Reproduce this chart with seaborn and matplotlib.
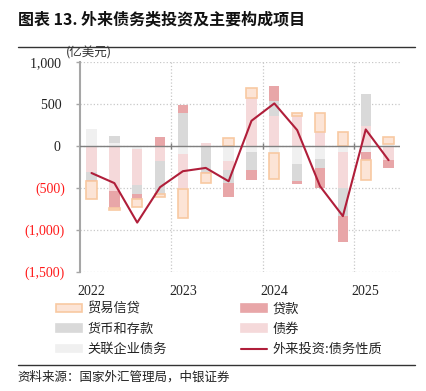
import numpy as np
import pandas as pd
import seaborn as sns
import matplotlib.pyplot as plt
from matplotlib.patches import Patch
from matplotlib.lines import Line2D

# Quarterly values, 100 million USD (亿美元)
quarters = ['2022Q1', '2022Q2', '2022Q3', '2022Q4',
            '2023Q1', '2023Q2', '2023Q3', '2023Q4',
            '2024Q1', '2024Q2', '2024Q3', '2024Q4',
            '2025Q1', '2025Q2']
year_labels = ['2022', '2023', '2024', '2025']

intercompany = [210, 40, -30, 0, -90, 0, -180, -68, -85, -215, -155, -68, -68, 30]
bonds = [-305, -535, -430, -180, -415, 35, -105, 576, 358, 358, 170, -425, 243, -160]
deposits = [-95, 83, -105, -390, 390, -310, -150, -210, 179, -203, -103, -342, 374, 0]
loans = [-20, -205, -65, 111, 99, -15, -175, -128, 179, -32, -235, -306, -91, -95]
trade_credit = [-215, -20, -100, -35, -346, -110, 100, 120, -305, 40, 228, 163, -247, 80]
debt_inflow = [-320, -440, -910, -488, -298, -259, -418, 302, 509, 191, -477, -833, 199, -167]

# stacking order from zero outward (same as the original chart)
series = [
    ('关联企业债务', intercompany, '#F0F0F0', 'none'),
    ('债券', bonds, '#F5D9DA', 'none'),
    ('货币和存款', deposits, '#D9D9D9', 'none'),
    ('贷款', loans, '#E8A6A8', 'none'),
    ('贸易信贷', trade_credit, '#FCE4D6', '#F8C9A2'),
]
line_color = '#B01E3A'

sns.set_style('white')
plt.rcParams['font.family'] = ['Noto Sans CJK SC', 'DejaVu Sans']

fig = plt.figure(figsize=(4.26, 3.91), dpi=100)
ax = fig.add_axes([0.188, 0.304, 0.751, 0.537])

pos_base = np.zeros(len(quarters))
neg_base = np.zeros(len(quarters))
for name, vals, color, edge in series:
    vals = np.array(vals, dtype=float)
    bottom = np.where(vals >= 0, pos_base, neg_base)
    df = pd.DataFrame({'quarter': quarters, 'value': vals})
    sns.barplot(data=df, x='quarter', y='value', order=quarters, ax=ax,
                color=color, width=0.45, bottom=bottom, saturation=1,
                edgecolor=edge, linewidth=1.2 if edge != 'none' else 0,
                errorbar=None, zorder=3)
    pos_base = pos_base + np.clip(vals, 0, None)
    neg_base = neg_base + np.clip(vals, None, 0)

line_df = pd.DataFrame({'pos': np.arange(len(quarters)), 'value': debt_inflow})
sns.lineplot(data=line_df, x='pos', y='value', ax=ax, color=line_color,
             linewidth=1.5, zorder=5, sort=False)

ax.set_xlim(-0.5, len(quarters) - 0.5)
ax.set_ylim(-1500, 1000)
ax.set_yticks([1000, 500, 0, -500, -1000, -1500])

def fmt(v):
    # accounting style: negatives in brackets, positives padded on the right
    return f'({abs(v):,})' if v < 0 else f'{v:,} '

ax.set_yticklabels([fmt(v) for v in ax.get_yticks().astype(int)],
                   family='Liberation Serif', fontsize=10)
for lab, v in zip(ax.get_yticklabels(), ax.get_yticks()):
    lab.set_color('#FF1A1A' if v < 0 else '#222222')

year_pos = [quarters.index(y + 'Q1') for y in year_labels]
ax.set_xticks(year_pos)
ax.set_xticklabels(year_labels, family='Liberation Serif', fontsize=10, color='#222222')
ax.set_xlabel('')
ax.set_ylabel('')

ax.grid(axis='y', linestyle=':', color='#C8C8C8', linewidth=0.9, zorder=0)
bounds = [p - 0.5 for p in year_pos[1:]]
for b in bounds:
    ax.axvline(b, linestyle=':', color='#C8C8C8', linewidth=0.9, zorder=0)
ax.axhline(0, color='#808080', linewidth=1.0, zorder=4)
ax.plot(bounds, [0] * len(bounds), linestyle='none', marker='|',
        markersize=5, color='#808080', zorder=4)

for s in ['top', 'right', 'bottom']:
    ax.spines[s].set_visible(False)
ax.spines['left'].set_color('#A6A6A6')
ax.spines['left'].set_linewidth(1.5)
ax.tick_params(axis='y', left=True, length=3, width=1, color='#A6A6A6', pad=8)
ax.tick_params(axis='x', bottom=False, pad=6)

# title block
fig.text(0.042, 0.948, '图表 13. 外来债务类投资及主要构成项目', fontsize=11.5,
         fontweight='bold', va='center', ha='left', color='#111111')
fig.add_artist(Line2D([0.042, 0.975], [0.881, 0.881], color='#333333', linewidth=1.0))
fig.text(0.155, 0.864, '(亿美元)', fontsize=9, va='center', ha='left', color='#333333')

# legend
handles = []
for name, vals, color, edge in series:
    handles.append((name, Patch(facecolor=color, edgecolor=edge if edge != 'none' else color,
                                linewidth=1.2)))
h = dict(handles)
leg_handles = [h['贸易信贷'], h['货币和存款'], h['关联企业债务'],
               h['贷款'], h['债券'], Line2D([], [], color=line_color, linewidth=1.5)]
leg_labels = ['贸易信贷', '货币和存款', '关联企业债务', '贷款', '债券', '外来投资:债务性质']
fig.legend(leg_handles, leg_labels, loc='upper left', bbox_to_anchor=(0.115, 0.243),
           ncol=2, frameon=False, fontsize=9.5, handlelength=2.0, handleheight=0.55,
           handletextpad=0.4, columnspacing=5.63, labelspacing=0.55, borderpad=0,
           labelcolor='#222222')

fig.add_artist(Line2D([0.042, 0.975], [0.066, 0.066], color='#333333', linewidth=1.0))
fig.text(0.042, 0.035, '资料来源：国家外汇管理局，中银证券', fontsize=9, style='italic',
         va='center', ha='left', color='#222222')

fig.savefig('out.png', dpi=100)
